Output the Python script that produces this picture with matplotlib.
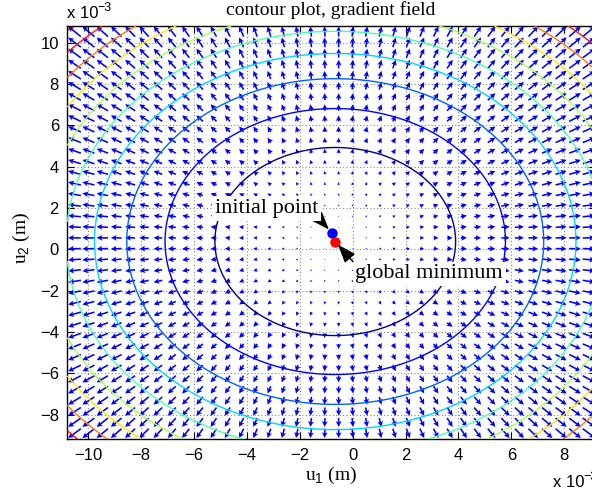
import numpy as np
import matplotlib as mpl
import matplotlib.pyplot as plt

mpl.rcParams['font.family'] = ['Liberation Sans', 'DejaVu Sans']
mpl.rcParams['mathtext.fontset'] = 'custom'
mpl.rcParams['mathtext.rm'] = 'Liberation Sans'
mpl.rcParams['mathtext.it'] = 'Liberation Sans'

# values in units of 1e-3 m
init_pt = [-0.79, 0.80]
min_pt = [-0.66, 0.37]
r_first = 4.55            # radius of innermost contour
levels = [1, 2, 3, 4, 5, 6, 7, 8, 9, 10]
half_span = 10.0          # axis limits = initial point +/- 10
n_grid = 40
xticks = [-10, -8, -6, -4, -2, 0, 2, 4, 6, 8]
yticks = [-8, -6, -4, -2, 0, 2, 4, 6, 8, 10]

xlim = (init_pt[0] - half_span, init_pt[0] + half_span)
ylim = (init_pt[1] - half_span, init_pt[1] + half_span)

fig = plt.figure(figsize=(5.92, 4.96), dpi=100)
W, H = 592.0, 496.0
ax = fig.add_axes([67.3 / W, (H - 439.3) / H, 529.0 / W, (439.3 - 26.0) / H])

# contour field
cx = np.linspace(xlim[0], xlim[1], 400)
cy = np.linspace(ylim[0], ylim[1], 400)
CX, CY = np.meshgrid(cx, cy)
F = ((CX - min_pt[0]) ** 2 + (CY - min_pt[1]) ** 2) / r_first ** 2
cols = plt.cm.jet(np.linspace(0, 1, len(levels)))

# gradient field on coarse grid
u1 = np.linspace(xlim[0], xlim[1], n_grid)
u2 = np.linspace(ylim[0], ylim[1], n_grid)
U1, U2 = np.meshgrid(u1, u2)
G1 = 2 * (U1 - min_pt[0]) / r_first ** 2
G2 = 2 * (U2 - min_pt[1]) / r_first ** 2
delx = u1[1] - u1[0]
dely = u2[1] - u2[0]
ln = np.sqrt((G1 ** 2 + G2 ** 2) / (delx ** 2 + dely ** 2))
s = 1.0 / ln.max()

ax.grid(True, color='0.45', linewidth=0.7, dashes=(1, 2.5))
ax.set_axisbelow(True)
ax.quiver(U1, U2, G1 * s, G2 * s, angles='xy', scale_units='xy', scale=1,
          color='#0000ff', width=0.0030, headwidth=3.6, headlength=3.6,
          headaxislength=3.0, minlength=0.5, zorder=2)
ax.contour(CX, CY, F, levels=levels, colors=cols, linewidths=1.0, zorder=3)

ax.plot(init_pt[0], init_pt[1], 'o', color='#0000ff', ms=7.5, mec='none', zorder=5)
ax.plot(min_pt[0], min_pt[1], 'o', color='#ff0000', ms=7.5, mec='none', zorder=6)

box = dict(facecolor='white', edgecolor='none', pad=2)
head = '-|>,head_length=0.7,head_width=0.26'
ax.annotate('initial point', xy=init_pt, xytext=(-3.25, 1.97),
            ha='center', va='center', family='Liberation Serif', fontsize=16,
            bbox=box, zorder=7,
            arrowprops=dict(arrowstyle=head, color='black', lw=1, relpos=(1, 0),
                            shrinkA=0, shrinkB=3))
ax.annotate('global minimum', xy=min_pt, xytext=(2.89, -1.20),
            ha='center', va='center', family='Liberation Serif', fontsize=16,
            bbox=box, zorder=7,
            arrowprops=dict(arrowstyle=head, color='black', lw=1, relpos=(0, 1),
                            shrinkA=0, shrinkB=3))

ax.set_xlim(xlim)
ax.set_ylim(ylim)
ax.set_xticks(xticks)
ax.set_yticks(yticks)
ax.tick_params(direction='in', top=True, right=True, length=5, labelsize=12, pad=6)
for sp in ax.spines.values():
    sp.set_linewidth(1.0)

fig.text(331 / W, 1 - 10 / H, 'contour plot, gradient field', ha='center', va='center',
         family='Liberation Serif', fontsize=14)
fig.text(331 / W, 1 - 475 / H, 'u$_1$ (m)', ha='center', va='center',
         family='Liberation Serif', fontsize=14)
fig.text(21 / W, 1 - 238 / H, 'u$_2$ (m)', ha='center', va='center', rotation=90,
         family='Liberation Serif', fontsize=14)

# exponent labels (the lower one runs past the right edge, as in the original)
fig.text(67 / W, 1 - 18 / H, 'x 10', ha='left', va='baseline', fontsize=12)
fig.text(97 / W, 1 - 11 / H, '\u22123', ha='left', va='baseline', fontsize=9)
fig.text(553 / W, 1 - 487 / H, 'x 10', ha='left', va='baseline', fontsize=12)
fig.text(583 / W, 1 - 480 / H, '\u22123', ha='left', va='baseline', fontsize=9)

fig.savefig('out.png', dpi=100)
